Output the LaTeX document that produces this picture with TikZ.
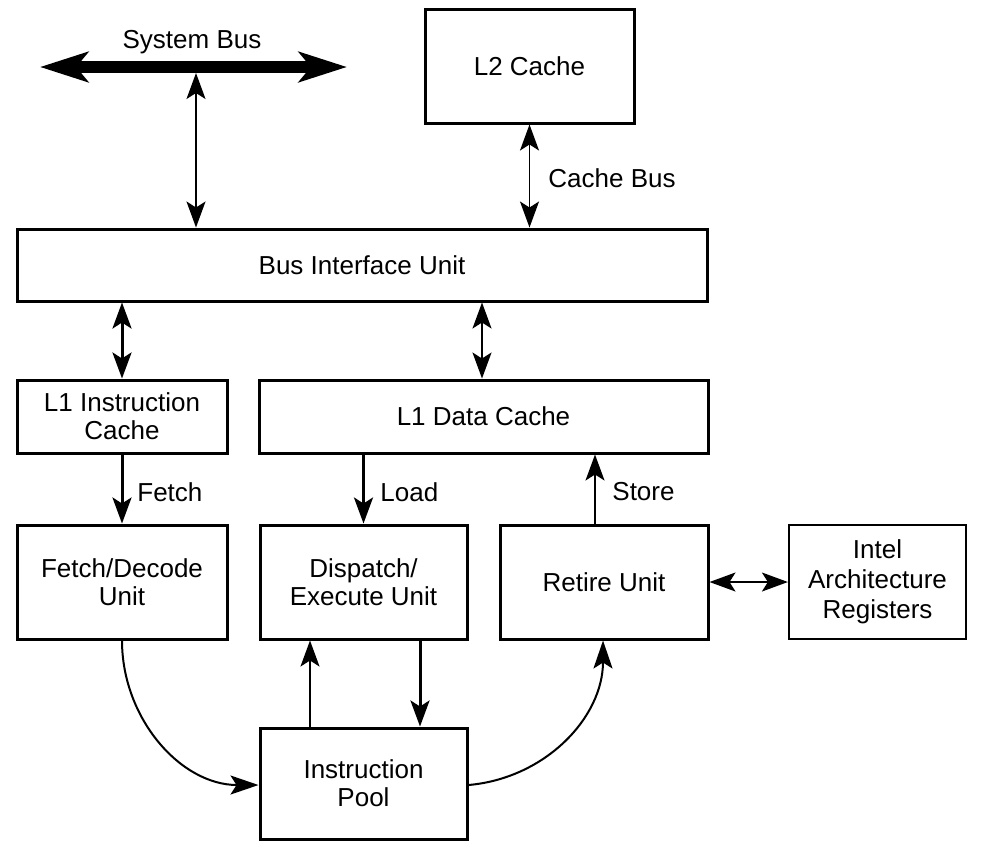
\documentclass[tikz,border=0pt]{standalone}
\usepackage{fontspec}
\setmainfont{Liberation Sans}
\usetikzlibrary{arrows.meta,calc}

\tikzset{
  unit/.style={draw, line width=1.5pt, align=center, inner sep=2pt,
               font=\fontsize{13}{14}\selectfont},
  lbl/.style={font=\fontsize{13}{14}\selectfont, inner sep=0pt},
  tip/.style={Stealth[length=13pt, width=9.5pt, inset=3pt]},
  thinlink/.style={line width=0.75pt, {Stealth[length=13pt, width=9.5pt, inset=3pt]}-{Stealth[length=13pt, width=9.5pt, inset=3pt]}},
  thicklink/.style={line width=1.5pt, {Stealth[length=13pt, width=9.5pt, inset=3pt]}-{Stealth[length=13pt, width=9.5pt, inset=3pt]}},
  thinflow/.style={line width=0.75pt, -{Stealth[length=13pt, width=9.5pt, inset=3pt]}},
  thickflow/.style={line width=1.5pt, -{Stealth[length=13pt, width=9.5pt, inset=3pt]}},
  curveflow/.style={line width=1pt, -{Stealth[length=14pt, width=9.5pt, inset=3pt]}},
  bus/.style={line width=6pt, {Stealth[length=24pt, width=15pt, inset=6pt]}-{Stealth[length=24pt, width=15pt, inset=6pt]}}
}

\begin{document}
\begin{tikzpicture}[x=0.5pt, y=-0.5pt]
  \useasboundingbox (0,0) rectangle (983,842);

  % functional units
  \node[unit, minimum width=104.5pt, minimum height=57pt] (L2) at (529.5,66) {L2 Cache};
  \node[unit, minimum width=345pt, minimum height=36pt] (BIU) at (362,265) {Bus Interface Unit};
  \node[unit, minimum width=105pt, minimum height=36.5pt] (L1I) at (122,416.5) {L1 Instruction\\Cache};
  \node[unit, minimum width=224.5pt, minimum height=36.5pt] (L1D) at (483.5,416.5) {L1 Data Cache};
  \node[unit, minimum width=105pt, minimum height=57pt] (FD) at (122,582) {Fetch/Decode\\Unit};
  \node[unit, minimum width=103.5pt, minimum height=57pt] (DE) at (363.5,582) {Dispatch/\\Execute Unit};
  \node[unit, minimum width=104pt, minimum height=57pt] (RU) at (604,582) {Retire Unit};
  \node[unit, line width=1.1pt, minimum width=88.5pt, minimum height=57pt,
        font=\fontsize{13}{15}\selectfont] (IAR) at (877.5,582) {Intel\\Architecture\\Registers};
  \node[unit, minimum width=103.5pt, minimum height=55.5pt] (Pool) at (363.5,783.5) {Instruction\\Pool};

  % system bus
  \coordinate (sbL) at (40,67);
  \coordinate (sbR) at (347,67);
  \coordinate (sbT) at (196,73);
  \draw[bus] (sbL) -- (sbR);
  \node[lbl] (sbLabel) at (192,42) {System Bus};
  \draw[thinlink] (sbT) -- (sbT |- BIU.north);

  % cache bus
  \draw[thinlink] (L2.south) -- (L2.south |- BIU.north);
  \node[lbl, anchor=west] (cbLabel) at (548,178) {Cache Bus};

  % bus interface to the L1 caches
  \draw[thicklink] (L1I.north |- BIU.south) -- (L1I.north);
  \draw[thinlink] ($(L1D.north)+(-1.5,0)$) coordinate (dTop) -- (dTop |- BIU.south);

  % fetch, load, store
  \draw[thickflow] (L1I.south) -- (FD.north);
  \node[lbl, anchor=west] (fetchLabel) at (137,492) {Fetch};
  \draw[thickflow] (DE.north |- L1D.south) -- (DE.north);
  \node[lbl, anchor=west] (loadLabel) at (380,492) {Load};
  \draw[thinflow] ($(RU.north)+(-9,0)$) coordinate (sTop) -- (sTop |- L1D.south);
  \node[lbl, anchor=west] (storeLabel) at (612,492) {Store};

  % retire unit and architectural registers
  \draw[thinlink] (RU.east) -- (IAR.west);

  % instruction pool traffic
  \draw[thinflow] ($(Pool.north)+(-53.5,0)$) coordinate (pUp) -- (pUp |- DE.south);
  \draw[thickflow] ($(DE.south)+(56.5,0)$) coordinate (pDown) -- (pDown |- Pool.north);
  \draw[curveflow] (FD.south) to[out=-90, in=180] ($(Pool.west)+(0,1.5)$);
  \draw[curveflow] ($(Pool.east)+(0,1.5)$) to[out=5, in=-90] ($(RU.south)+(-1,0)$);
\end{tikzpicture}
\end{document}
